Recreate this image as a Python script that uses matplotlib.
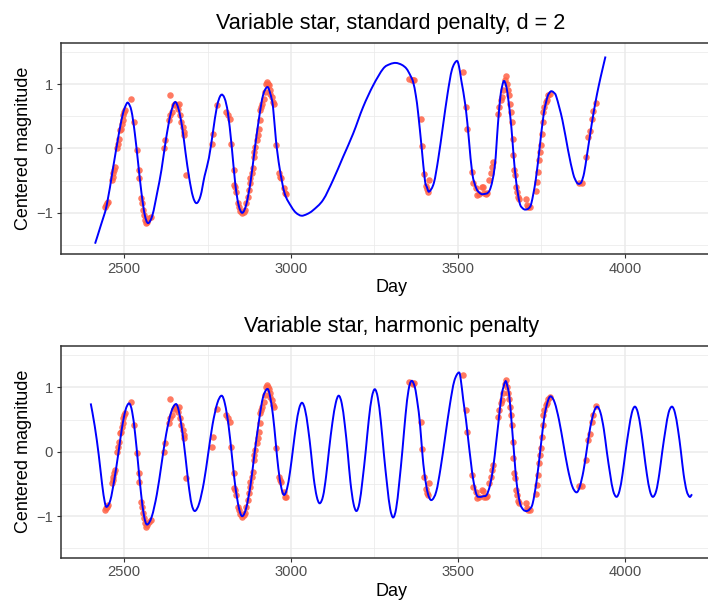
import numpy as np
import matplotlib.pyplot as plt
from matplotlib.path import Path
from matplotlib.patches import PathPatch
from matplotlib.ticker import MultipleLocator

plt.rcParams['font.family'] = ['Liberation Sans', 'DejaVu Sans']

obs_day = [2443, 2448, 2453, 2446, 2463, 2466, 2468, 2470, 2473, 2480, 2483, 2486,
           2488, 2490, 2493, 2496, 2498, 2500, 2503, 2520, 2530, 2538, 2545, 2546,
           2551, 2553, 2558, 2561, 2563, 2566, 2570, 2576, 2580,
           2621, 2624, 2633, 2638, 2643, 2648, 2653, 2658, 2660, 2663, 2638, 2668,
           2671, 2675, 2678, 2680, 2686,
           2763, 2766, 2778, 2806, 2811, 2816, 2820, 2828, 2830, 2833, 2836, 2840,
           2844, 2848, 2853, 2858, 2861, 2866, 2870, 2873, 2876, 2878, 2883, 2886,
           2888, 2890, 2893, 2898, 2900, 2903, 2906, 2908, 2911, 2913, 2918, 2923,
           2926, 2928, 2930, 2933, 2936, 2938, 2943, 2946, 2948, 2956, 2963, 2966,
           2970, 2980, 2983, 2986,
           3354, 3361, 3366, 3369, 3388, 3391, 3399, 3404, 3408, 3411, 3414,
           3514, 3523, 3528, 3543, 3546, 3554, 3558, 3563, 3571, 3574, 3578, 3584,
           3588, 3594, 3599, 3601, 3606, 3621, 3624, 3628, 3631, 3636, 3641, 3644,
           3648, 3651, 3654, 3656, 3658, 3661, 3664, 3666, 3669, 3671, 3674, 3676,
           3679, 3684, 3703, 3706, 3711, 3716, 3734, 3738, 3741, 3744, 3746, 3749,
           3751, 3754, 3756, 3759, 3763, 3766, 3771, 3776,
           3864, 3871, 3884, 3891, 3896, 3901, 3906, 3914]
obs_mag = [-0.905, -0.853, -0.827, -0.88, -0.49, -0.44, -0.388, -0.337, -0.285, 0.0, 0.077, 0.154,
           0.284, 0.309, 0.387, 0.439, 0.516, 0.568, 0.594, 0.775, 0.413, -0.026, -0.337, -0.466,
           -0.776, -0.853, -0.957, -1.034, -1.112, -1.163, -1.137, -1.086, -1.06,
           0.0, 0.129, 0.439, 0.516, 0.568, 0.671, 0.697, 0.671, 0.62, 0.697, 0.826, 0.516,
           0.413, 0.335, 0.258, 0.206, -0.414,
           0.077, 0.232, 0.671, 0.568, 0.516, 0.465, 0.077, -0.337, -0.569, -0.595, -0.672, -0.853,
           -0.905, -0.967, -1.008, -0.982, -0.957, -0.853, -0.75, -0.647, -0.543, -0.466, -0.388, -0.31,
           -0.13, -0.052, 0.025, 0.129, 0.206, 0.309, 0.439, 0.594, 0.645, 0.697, 0.775, 0.878,
           1.007, 1.033, 1.007, 0.981, 0.904, 0.852, 0.8, 0.723, 0.697, 0.051, -0.388, -0.44,
           -0.466, -0.62, -0.698, -0.708,
           1.085, 1.069, 1.059, 1.069, 0.465, 0.036, -0.399, -0.585, -0.636, -0.672, -0.492,
           1.188, 0.645, 0.309, -0.362, -0.543, -0.621, -0.724, -0.708, -0.595, -0.605, -0.698, -0.708,
           -0.688, -0.492, -0.388, -0.285, -0.207, 0.542, 0.645, 0.749, 0.8, 0.904, 1.059, 1.121,
           1.007, 0.904, 0.826, 0.697, 0.568, 0.413, 0.154, -0.104, -0.336, -0.414, -0.595, -0.672,
           -0.76, -0.791, -0.791, -0.879, -0.905, -0.905, -0.657, -0.517, -0.362, -0.181, -0.052, 0.051,
           0.232, 0.413, 0.568, 0.645, 0.723, 0.759, 0.826, 0.852,
           -0.533, -0.533, -0.13, 0.18, 0.273, 0.465, 0.578, 0.708]

# fitted curve, standard penalty (d = 2)
std_day = [2413, 2430, 2448, 2467, 2485, 2497, 2505, 2512,
           2522, 2532, 2542, 2552, 2562, 2572,
           2585, 2599, 2612, 2625, 2639, 2652,
           2663, 2674, 2684, 2695, 2706, 2717,
           2729, 2741, 2754, 2766, 2778, 2790,
           2801, 2811, 2822, 2833, 2843, 2854,
           2866, 2879, 2891, 2904, 2916, 2929,
           2938, 2946, 2955, 2966, 2981, 3001, 3015, 3031,
           3048, 3066, 3096, 3126, 3156, 3186, 3216, 3246, 3276, 3296, 3314,
           3332, 3346, 3358, 3366, 3374, 3381, 3391, 3401, 3407, 3414,
           3428, 3441, 3455, 3469, 3482, 3496,
           3503, 3510, 3523, 3533, 3543, 3555, 3565, 3575,
           3595, 3610, 3620, 3627, 3633, 3638,
           3644, 3650, 3660, 3667, 3675, 3685, 3694, 3702,
           3712, 3720, 3733, 3745, 3757, 3768, 3775, 3780,
           3787, 3795, 3813, 3830, 3845, 3855, 3862,
           3870, 3878, 3886, 3894, 3902, 3912, 3922, 3932, 3942]
std_fit = [-1.48, -1.20, -0.88, -0.30, 0.25, 0.55, 0.67, 0.71,
           0.585, 0.24, -0.225, -0.69, -1.035, -1.16,
           -1.034, -0.69, -0.33, 0.13, 0.53, 0.72,
           0.615, 0.328, -0.065, -0.458, -0.745, -0.85,
           -0.737, -0.43, -0.15, 0.25, 0.65, 0.83,
           0.78, 0.55, 0.05, -0.55, -0.88, -1.00,
           -0.869, -0.511, -0.023, 0.466, 0.824, 0.955,
           0.85, 0.65, 0.12, -0.31, -0.70, -0.905, -1.00, -1.045,
           -1.02, -0.96, -0.80, -0.49, -0.13, 0.23, 0.645, 0.98, 1.24, 1.31, 1.33,
           1.30, 1.24, 1.13, 1.03, 0.82, 0.54, 0.03, -0.49, -0.60, -0.67,
           -0.534, -0.163, 0.345, 0.853, 1.224, 1.36,
           1.28, 1.06, 0.645, 0.13, -0.39, -0.62, -0.69, -0.71,
           -0.65, -0.29, 0.39, 0.80, 0.98, 1.05,
           0.98, 0.80, 0.335, -0.13, -0.54, -0.85, -0.93, -0.95,
           -0.93, -0.85, -0.49, 0.025, 0.54, 0.80, 0.87, 0.89,
           0.87, 0.80, 0.44, -0.03, -0.39, -0.52, -0.55,
           -0.52, -0.38, -0.12, 0.15, 0.42, 0.72, 0.98, 1.21, 1.43]

# fitted curve, harmonic penalty
harm_day = [2400, 2412, 2424, 2434, 2442, 2448,
            2459, 2470, 2482, 2493, 2504, 2515,
            2524, 2533, 2542, 2551, 2560, 2569,
            2583, 2598, 2612, 2626, 2641, 2655,
            2664, 2674, 2684, 2693, 2702, 2712,
            2725, 2739, 2752, 2765, 2779, 2792,
            2802, 2813, 2823, 2833, 2844, 2854,
            2866, 2879, 2891, 2904, 2916, 2929,
            2937, 2946, 2954, 2962, 2971, 2979,
            2988, 2997, 3006, 3015, 3024, 3033,
            3042, 3051, 3060, 3068, 3077, 3086,
            3096, 3105, 3114, 3124, 3134, 3143,
            3152, 3161, 3170, 3178, 3187, 3196,
            3205, 3214, 3224, 3233, 3242, 3251,
            3260, 3269, 3278, 3288, 3297, 3306,
            3315, 3324, 3334, 3343, 3352, 3361,
            3371, 3379, 3386, 3393, 3400, 3410, 3421,
            3435, 3448, 3462, 3476, 3489, 3503,
            3509, 3516, 3524, 3531, 3539, 3546, 3556, 3566, 3576, 3586,
            3596, 3606, 3614, 3621, 3631, 3642,
            3648, 3654, 3661, 3669, 3676, 3686, 3696, 3706,
            3715, 3724, 3736, 3748, 3759, 3769, 3778,
            3790, 3803, 3816, 3829, 3842, 3855,
            3865, 3876, 3886, 3896, 3907, 3917,
            3927, 3937, 3946, 3956, 3965, 3975,
            3984, 3993, 4002, 4012, 4021, 4030,
            4039, 4048, 4057, 4066, 4075, 4084,
            4094, 4103, 4112, 4122, 4131, 4141,
            4150, 4159, 4168, 4176, 4185, 4194, 4201]
harm_fit = [0.75, 0.40, -0.05, -0.50, -0.78, -0.855,
            -0.748, -0.454, -0.053, 0.349, 0.643, 0.75,
            0.624, 0.28, -0.19, -0.66, -1.004, -1.13,
            -1.005, -0.663, -0.195, 0.273, 0.615, 0.74,
            0.629, 0.325, -0.09, -0.505, -0.809, -0.92,
            -0.80, -0.473, -0.025, 0.423, 0.75, 0.87,
            0.745, 0.403, -0.065, -0.533, -0.875, -1.0,
            -0.868, -0.506, -0.013, 0.481, 0.843, 0.975,
            0.865, 0.564, 0.153, -0.259, -0.56, -0.67,
            -0.574, -0.313, 0.045, 0.403, 0.664, 0.76,
            0.655, 0.37, -0.02, -0.41, -0.695, -0.80,
            -0.688, -0.383, 0.035, 0.453, 0.758, 0.87,
            0.75, 0.423, -0.025, -0.473, -0.80, -0.92,
            -0.793, -0.448, 0.025, 0.498, 0.843, 0.97,
            0.837, 0.473, -0.025, -0.523, -0.887, -1.02,
            -0.878, -0.49, 0.04, 0.57, 0.958, 1.10,
            1.0, 0.75, 0.45, 0.0, -0.35, -0.65, -0.75,
            -0.617, -0.255, 0.24, 0.735, 1.097, 1.23,
            1.10, 0.80, 0.50, 0.18, -0.17, -0.44, -0.67, -0.70, -0.69, -0.67,
            -0.52, -0.23, 0.12, 0.44, 0.88, 1.09,
            1.02, 0.855, 0.44, -0.08, -0.49, -0.80, -0.90, -0.92,
            -0.89, -0.80, -0.44, 0.08, 0.545, 0.78, 0.86,
            0.76, 0.488, 0.115, -0.258, -0.53, -0.63,
            -0.541, -0.298, 0.035, 0.368, 0.611, 0.70,
            0.606, 0.35, 0.0, -0.35, -0.606, -0.70,
            -0.606, -0.35, 0.0, 0.35, 0.606, 0.70,
            0.606, 0.35, 0.0, -0.35, -0.606, -0.70,
            -0.606, -0.35, 0.0, 0.35, 0.606, 0.70,
            0.606, 0.35, 0.0, -0.35, -0.606, -0.70, -0.66]

titles = ['Variable star, standard penalty, d = 2', 'Variable star, harmonic penalty']
fits = [(std_day, std_fit), (harm_day, harm_fit)]


def smooth_path(x, y):
    # draw a smooth bezier line through the read-off points (Catmull-Rom style handles)
    p = np.column_stack([x, y]).astype(float)
    pp = np.vstack([p[0], p, p[-1]])
    verts = [p[0]]
    codes = [Path.MOVETO]
    for i in range(1, len(pp) - 2):
        c1 = pp[i] + (pp[i + 1] - pp[i - 1]) / 6
        c2 = pp[i + 1] - (pp[i + 2] - pp[i]) / 6
        verts += [c1, c2, pp[i + 1]]
        codes += [Path.CURVE4] * 3
    return Path(verts, codes)


fig = plt.figure(figsize=(7.08, 6.01), dpi=100)
positions = [[0.0857, 0.5769, 0.9336, 0.3521], [0.0857, 0.0720, 0.9336, 0.3527]]

for pos, title, (fd, fv) in zip(positions, titles, fits):
    ax = fig.add_axes(pos)
    ax.set_xlim(2310, 4290)
    ax.set_ylim(-1.645, 1.645)
    ax.xaxis.set_major_locator(MultipleLocator(500))
    ax.xaxis.set_minor_locator(MultipleLocator(250))
    ax.yaxis.set_major_locator(MultipleLocator(1))
    ax.yaxis.set_minor_locator(MultipleLocator(0.5))
    ax.grid(which='major', color='#EBEBEB', lw=1.1)
    ax.grid(which='minor', color='#EBEBEB', lw=0.55)
    ax.set_axisbelow(True)
    ax.scatter(obs_day, obs_mag, s=22, color='#FF6347', alpha=0.85, lw=0, zorder=2)
    ax.add_patch(PathPatch(smooth_path(fd, fv), fill=False, edgecolor='blue',
                           lw=1.4, zorder=3))
    for sp in ax.spines.values():
        sp.set_color('#333333')
        sp.set_linewidth(1.1)
    ax.tick_params(which='major', length=3, width=0.8, color='#333333',
                   labelsize=10.6, labelcolor='#4D4D4D', pad=2.5)
    ax.tick_params(which='minor', length=0)
    ax.set_yticks([-1, 0, 1], ['\u22121', '0', '1'])
    ax.set_title(title, fontsize=15.6, pad=10)
    ax.set_xlabel('Day', fontsize=13, labelpad=2.5)
    ax.set_ylabel('Centered magnitude', fontsize=13, labelpad=3)

fig.savefig('out.png', dpi=100)
